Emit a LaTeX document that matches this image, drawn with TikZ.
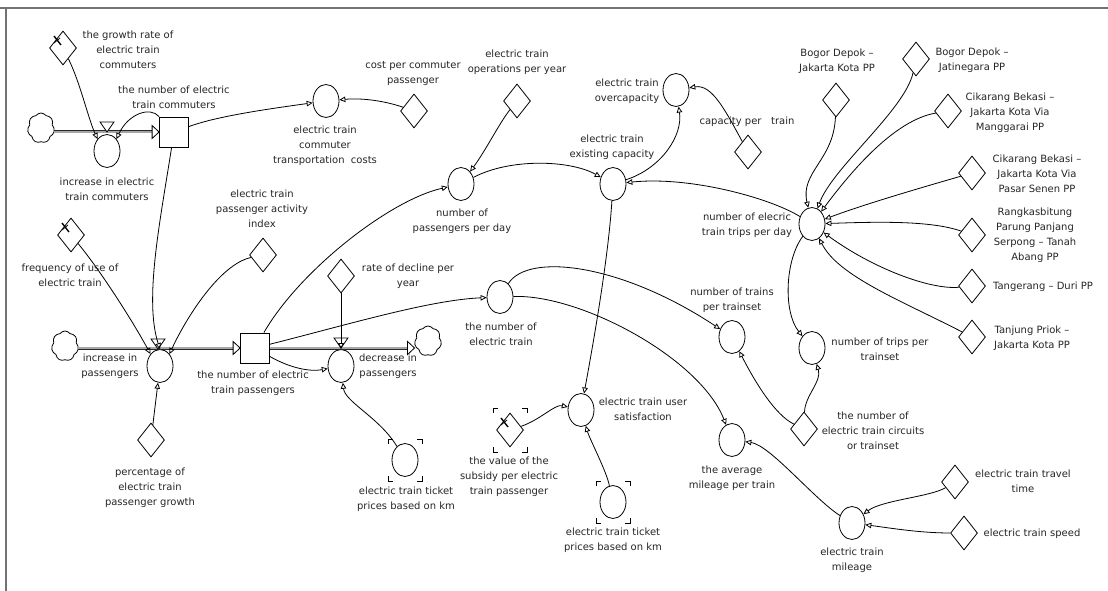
\documentclass[tikz,border=0pt]{standalone}
\usepackage{fontspec}
\setmainfont{DejaVu Sans}
\usetikzlibrary{shapes.geometric,shapes.symbols,arrows.meta,calc}
\tikzset{
  aux/.style={draw, line width=0.8pt, ellipse, minimum width=26pt, minimum height=33pt, inner sep=0pt},
  cst/.style={draw, line width=0.8pt, diamond, minimum width=27pt, minimum height=34pt, inner sep=0pt},
  stk/.style={draw, line width=0.8pt, rectangle, minimum width=29pt, minimum height=30pt, inner sep=0pt},
  cld/.style={draw, line width=0.8pt, cloud, cloud puffs=7, cloud puff arc=110, aspect=0.9, minimum width=27pt, minimum height=30pt, inner sep=0pt},
  lbl/.style={align=center, inner sep=0pt, font=\fontsize{10}{15}\selectfont, text=black!85},
  link/.style={draw, line width=0.8pt, -{Triangle[open, length=6pt, width=5.5pt]}},
  pipe/.style={draw=black!85, double=black!35, double distance=1.4pt, line width=0.8pt},
  tip/.style={draw, line width=0.8pt, fill=white},
  frame/.style={draw=black!55, line width=1.8pt}
}
\newcommand\pinmark[1]{%
  \draw[line width=1.4pt] ([shift={(-9,-12)}]#1.center) -- ([shift={(-2,-3)}]#1.center);
  \draw[line width=0.8pt] ([shift={(-9,-5)}]#1.center) -- ([shift={(-3,-10)}]#1.center);
}
\newcommand\brkmark[3]{% node, half width, half height
  \draw[line width=0.8pt] ([shift={(-#2,-#3+5)}]#1.center) -- ([shift={(-#2,-#3)}]#1.center) -- ([shift={(-#2+5,-#3)}]#1.center);
  \draw[line width=0.8pt] ([shift={(#2,-#3+5)}]#1.center) -- ([shift={(#2,-#3)}]#1.center) -- ([shift={(#2-5,-#3)}]#1.center);
  \draw[line width=0.8pt] ([shift={(-#2,#3-5)}]#1.center) -- ([shift={(-#2,#3)}]#1.center) -- ([shift={(-#2+5,#3)}]#1.center);
  \draw[line width=0.8pt] ([shift={(#2,#3-5)}]#1.center) -- ([shift={(#2,#3)}]#1.center) -- ([shift={(#2-5,#3)}]#1.center);
}
\newcommand\valvemark[1]{%
  \draw[tip] ([shift={(-7,-10)}]#1) -- ([shift={(7,-10)}]#1) -- (#1) -- cycle;
}
\newcommand\flowtip[1]{%
  \draw[tip] ([shift={(-7,-6.5)}]#1) -- (#1) -- ([shift={(-7,6.5)}]#1) -- cycle;
}
\begin{document}
\begin{tikzpicture}[x=1pt,y=-1pt]
\useasboundingbox (0,0) rectangle (1108,591);
\fill[white] (0,0) rectangle (1108,591);
% frame
\draw[frame] (0,8) -- (1108,8);
\draw[frame] (6,8) -- (6,591);

% ---------- nodes ----------
\node[cst] (G) at (63,48) {};
\node[cld] (C1) at (41,128) {};
\node[stk] (S1) at (174,132) {};
\node[aux] (R1) at (107,151) {};
\coordinate (V1) at (107,132);
\node[aux] (A1) at (326,101) {};
\node[cst] (CPC) at (414,111) {};
\node[cst] (OPS) at (517,101) {};
\node[aux] (P) at (461,184) {};
\node[aux] (E) at (613,184) {};
\node[aux] (O) at (676,90) {};
\node[cst] (CAP) at (748,152) {};
\node[aux] (T) at (812,224) {};
\node[aux] (NT) at (812,348) {};
\node[aux] (NTT) at (732,337) {};
\node[cst] (CK) at (804,429) {};
\node[cst] (BDJK) at (836,100) {};
\node[cst] (BDJ) at (916,59) {};
\node[cst] (CBM) at (948,111) {};
\node[cst] (CBPS) at (972,173) {};
\node[cst] (RPP) at (972,235) {};
\node[cst] (TD) at (972,286) {};
\node[cst] (TP) at (972,337) {};
\node[cst] (F) at (71,235) {};
\node[cld] (C2) at (65,346) {};
\node[aux] (R2) at (160,366) {};
\coordinate (V2) at (158,349);
\node[stk] (S2) at (255,348) {};
\node[cst] (AI) at (263,255) {};
\node[aux] (R3) at (341,366) {};
\coordinate (V3) at (341,348);
\node[cld] (C3) at (428,341) {};
\node[cst] (RD) at (341,276) {};
\node[aux] (K1) at (405,460) {};
\node[cst] (PG) at (151,440) {};
\node[aux] (NE) at (500,297) {};
\node[aux] (AM) at (732,440) {};
\node[aux] (US) at (581,410) {};
\node[cst] (SB) at (510,430) {};
\node[aux] (K2) at (613,502) {};
\node[aux] (EM) at (852,523) {};
\node[cst] (TT) at (955,482) {};
\node[cst] (SP) at (964,533) {};

% ---------- pipes ----------
\coordinate (P1a) at (C1.east |- V1);
\coordinate (P1b) at (S1.west |- V1);
\draw[pipe] (P1a) -- ([xshift=-7pt]P1b);
\flowtip{P1b}
\valvemark{V1}

\coordinate (P2a) at (C2.east |- S2.west);
\coordinate (P2b) at (S2.west);
\draw[pipe] (P2a) -- ([xshift=-7pt]P2b);
\flowtip{P2b}
\valvemark{V2}

\coordinate (P3a) at (S2.east);
\coordinate (P3b) at (C3.west |- S2.east);
\draw[pipe] (P3a) -- ([xshift=-7pt]P3b);
\flowtip{P3b}
\valvemark{V3}

% ---------- marks ----------
\pinmark{G}
\pinmark{F}
\pinmark{SB}
\brkmark{K1}{17}{21}
\brkmark{K2}{17}{21}
\brkmark{SB}{17}{22}

% ---------- links ----------
\draw[link] (G) .. controls (80,82) and (88,118) .. (R1.north west);
\draw[link] (S1.north west) .. controls (150,106) and (128,114) .. (R1.north east);
\draw[link] (S1) .. controls (215,117) and (260,110) .. (A1);
\draw[link] (CPC) .. controls (382,100) and (360,98) .. (A1);
\draw[link] (OPS) .. controls (500,122) and (486,150) .. (P);
\draw[link] (P) .. controls (510,158) and (570,160) .. (E);
\draw[link] (E) .. controls (662,168) and (683,135) .. (O);
\draw[link] (CAP) .. controls (725,110) and (712,84) .. (O);
\draw[link] (T) .. controls (770,198) and (690,176) .. (E);
\draw[link] (T) .. controls (785,260) and (783,312) .. (NT);
\draw[link] (CK) .. controls (775,415) and (755,382) .. (NTT);
\draw[link] (CK) .. controls (805,395) and (822,382) .. (NT);
\draw[link] (BDJK) .. controls (834,160) and (800,172) .. (T);
\draw[link] (BDJ) .. controls (905,110) and (832,168) .. (T);
\draw[link] (CBM) .. controls (895,120) and (852,170) .. (T);
\draw[link] (CBPS) .. controls (920,188) and (862,205) .. (T);
\draw[link] (RPP) .. controls (930,220) and (872,222) .. (T);
\draw[link] (TD) .. controls (930,290) and (872,268) .. (T);
\draw[link] (TP) .. controls (900,300) and (838,276) .. (T);
\draw[link] (F) .. controls (100,270) and (132,320) .. (R2.north west);
\draw[link] (S1) .. controls (160,222) and (144,300) .. (R2.north);
\draw[link] (AI) .. controls (220,264) and (186,318) .. (R2.north east);
\draw[link] (PG) -- (R2);
\draw[link] (RD) -- (R3.north);
\draw[link] (S2) .. controls (290,368) and (310,372) .. (R3);
\draw[link] (K1) .. controls (380,418) and (345,402) .. (R3);
\draw[link] (S2) .. controls (300,270) and (390,200) .. (P);
\draw[link] (S2) .. controls (350,324) and (430,300) .. (NE);
\draw[link] (NE) .. controls (528,252) and (622,264) .. (NTT);
\draw[link] (NE) .. controls (580,294) and (700,358) .. (AM);
\draw[link] (E) .. controls (608,262) and (592,350) .. (US);
\draw[link] (SB) .. controls (540,420) and (555,404) .. (US);
\draw[link] (K2) .. controls (606,470) and (590,440) .. (US);
\draw[link] (EM) .. controls (815,500) and (770,445) .. (AM);
\draw[link] (TT) .. controls (930,497) and (882,500) .. (EM);
\draw[link] (SP) .. controls (920,533) and (890,528) .. (EM);

% ---------- labels ----------
\node[lbl] (Lgr) at (128,50) {the growth rate of\\electric train\\commuters};
\node[lbl] (LS1) at (174,97.5) {the number of electric\\train commuters};
\node[lbl] (LR1) at (107,189.5) {increase in electric\\train commuters};
\node[lbl] (LA1) at (325,146) {electric train\\commuter\\transportation~~costs};
\node[lbl] (Lcpc) at (413,73.5) {cost per commuter\\passenger};
\node[lbl] (Lops) at (517,62.5) {electric train\\operations per year};
\node[lbl] (LO) at (627,91) {electric train\\overcapacity};
\node[lbl] (Lcap) at (747,122) {capacity per~~~train};
\node[lbl] (LP) at (462,221.5) {number of\\passengers per day};
\node[lbl] (LE) at (612,147) {electric train\\existing capacity};
\node[lbl] (LT) at (747,225) {number of elecric\\train trips per day};
\node[lbl] (LNT) at (880,349.5) {number of trips per\\trainset};
\node[lbl] (LNTT) at (732,300.5) {number of trains\\per trainset};
\node[lbl] (LCK) at (873,430.5) {the number of\\electric train circuits\\or trainset};
\node[lbl] (LBDJK) at (837,61.5) {Bogor Depok –\\Jakarta Kota PP};
\node[lbl] (LBDJ) at (972,60) {Bogor Depok –\\Jatinegara PP};
\node[lbl] (LCBM) at (1010,112.5) {Cikarang Bekasi –\\Jakarta Kota Via\\Manggarai PP};
\node[lbl] (LCBPS) at (1037,174) {Cikarang Bekasi –\\Jakarta Kota Via\\Pasar Senen PP};
\node[lbl] (LRPP) at (1035,235) {Rangkasbitung\\Parung Panjang\\Serpong – Tanah\\Abang PP};
\node[lbl] (LTD) at (1043,287) {Tangerang – Duri PP};
\node[lbl] (LTP) at (1032,338) {Tanjung Priok –\\Jakarta Kota PP};
\node[lbl] (LF) at (70,275) {frequency of use of\\electric train};
\node[lbl] (LR2) at (110,366.5) {increase in\\passengers};
\node[lbl] (LS2) at (253,383) {the number of electric\\train passengers};
\node[lbl] (LAI) at (262,208.5) {electric train\\passenger activity\\index};
\node[lbl] (LR3) at (388,366.5) {decrease in\\passengers};
\node[lbl] (LRD) at (408,276) {rate of decline per\\year};
\node[lbl] (LK1) at (406,499) {electric train ticket\\prices based on km};
\node[lbl] (LPG) at (150,488) {percentage of\\electric train\\passenger growth};
\node[lbl] (LNE) at (501,334.5) {the number of\\electric train};
\node[lbl] (LAM) at (732,478.5) {the average\\mileage per train};
\node[lbl] (LUS) at (643,409.5) {electric train user\\satisfaction};
\node[lbl] (LSB) at (509,477) {the value of the\\subsidy per electric\\train passenger};
\node[lbl] (LK2) at (613,540) {electric train ticket\\prices based on km};
\node[lbl] (LEM) at (852,560.5) {electric train\\mileage};
\node[lbl] (LTT) at (1023,481.5) {electric train travel\\time};
\node[lbl] (LSP) at (1032,534) {electric train speed};
\end{tikzpicture}
\end{document}
